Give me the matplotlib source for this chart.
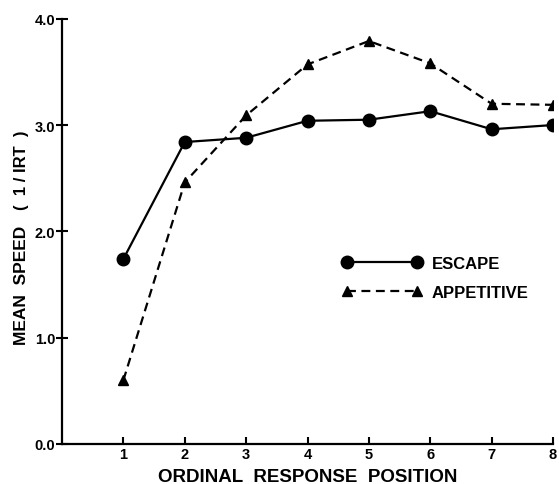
import matplotlib
matplotlib.use("Agg")
import matplotlib.pyplot as plt

positions = [1, 2, 3, 4, 5, 6, 7, 8]
escape = [1.74, 2.84, 2.88, 3.04, 3.05, 3.13, 2.96, 3.00]
appetitive = [0.60, 2.46, 3.09, 3.57, 3.79, 3.58, 3.20, 3.19]
yticks = [0.0, 1.0, 2.0, 3.0, 4.0]

plt.rcParams['font.family'] = ['Liberation Sans', 'DejaVu Sans']
plt.rcParams['font.weight'] = 'bold'

fig = plt.figure(figsize=(5.59, 4.85), dpi=100)
ax = fig.add_axes([62/559, 1 - 445/485, (553-62)/559, (445-19.7)/485])

ax.plot(positions, escape, '-', color='black', lw=1.6, marker='o', ms=9,
        label='ESCAPE')
ax.plot(positions, appetitive, '--', color='black', lw=1.6, marker='^', ms=7.5,
        dashes=(4, 2.5), label='APPETITIVE')

ax.set_xlim(0, 8)
ax.set_ylim(0, 4)
ax.set_xticks(positions)
ax.set_xticklabels([str(p) for p in positions], fontsize=10.5, fontweight='bold')
ax.set_yticks(yticks)
ax.set_yticklabels([f"{v:.1f}" for v in yticks], fontsize=10.5, fontweight='bold')
ax.tick_params(axis='x', direction='in', length=5, width=1.5, pad=2)
ax.tick_params(axis='y', direction='inout', length=8, width=1.5, pad=1)

for s in ['top', 'right']:
    ax.spines[s].set_visible(False)
for s in ['left', 'bottom']:
    ax.spines[s].set_linewidth(1.6)
ax.spines['bottom'].set_bounds(0, 8)

ax.set_xlabel('ORDINAL  RESPONSE  POSITION', fontsize=13.5, fontweight='bold',
              labelpad=5)

# y label in two parts: large main text, smaller unit text
ax.text(-0.082, 0.235, 'MEAN  SPEED', transform=ax.transAxes, rotation=90,
        rotation_mode='anchor', ha='left', va='center', fontsize=12.5,
        fontweight='bold')
ax.text(-0.082, 0.552, '(  1 / IRT  )', transform=ax.transAxes, rotation=90,
        rotation_mode='anchor', ha='left', va='center', fontsize=12,
        fontweight='bold')

leg = ax.legend(loc='center left', bbox_to_anchor=(0.57, 0.39), frameon=False,
                fontsize=12, numpoints=2, handlelength=4.8, handletextpad=0.6,
                labelspacing=0.85, borderaxespad=0, borderpad=0)
for t in leg.get_texts():
    t.set_fontweight('bold')

fig.savefig('out.png', dpi=100)
